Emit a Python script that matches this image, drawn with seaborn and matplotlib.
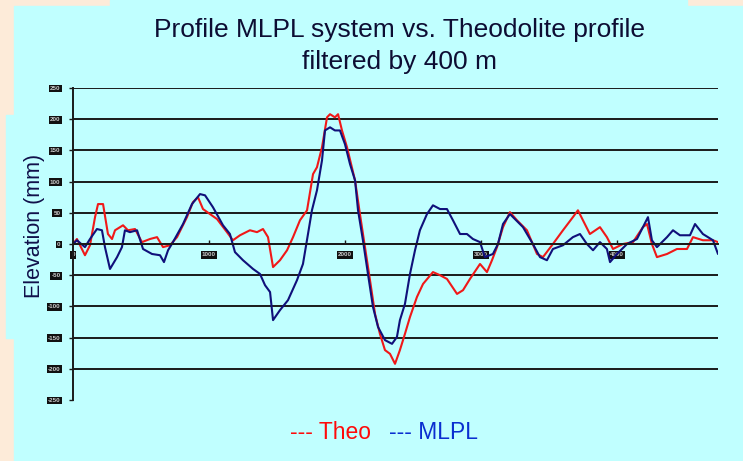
import numpy as np
import pandas as pd
import seaborn as sns
import matplotlib.pyplot as plt
from matplotlib.patches import Rectangle

# distance along the profile (m) and elevation (mm)
theo_x = [0, 29, 88, 125, 162, 184, 221, 257, 287, 309, 368, 404, 456, 507, 566, 618,
          662, 713, 765, 838, 882, 919, 956, 1007, 1059, 1132, 1176, 1228, 1301, 1353,
          1397, 1434, 1471, 1522, 1574, 1618, 1669, 1721, 1765, 1794, 1831, 1868, 1890,
          1926, 1949, 1978, 2015, 2074, 2110, 2147, 2184, 2221, 2257, 2294, 2331, 2368,
          2404, 2441, 2478, 2529, 2574, 2647, 2699, 2750, 2824, 2868, 2919, 2993, 3044,
          3081, 3118, 3162, 3213, 3265, 3338, 3412, 3456, 3529, 3603, 3676, 3713, 3750,
          3801, 3875, 3926, 3971, 4044, 4118, 4191, 4221, 4257, 4294, 4368, 4441, 4515,
          4559, 4632, 4706, 4743]
theo_y = [0, 8, -18, -2, 43, 64, 64, 16, 8, 22, 30, 22, 24, 3, 8, 11,
          -5, -2, 11, 43, 67, 75, 56, 48, 40, 19, 6, 14, 22, 19,
          24, 11, -37, -26, -10, 11, 38, 54, 112, 123, 155, 203, 208,
          203, 208, 182, 155, 102, 48, -5, -58, -112, -144, -170, -176, -192,
          -170, -144, -117, -85, -64, -45, -50, -56, -80, -74, -56, -32, -45,
          -26, -5, 27, 51, 38, 22, -16, -21, 0, 22, 43, 54, 38,
          16, 27, 11, -8, 0, 3, 27, 32, 0, -21, -16, -8, -8,
          11, 6, 6, 3]

mlpl_x = [0, 29, 88, 125, 176, 213, 235, 272, 324, 360, 382, 419, 471, 515, 581, 640,
          669, 699, 735, 809, 875, 934, 971, 1029, 1103, 1154, 1191, 1250, 1324, 1375,
          1412, 1449, 1471, 1522, 1581, 1647, 1691, 1728, 1757, 1794, 1831, 1853, 1890,
          1926, 1963, 2000, 2037, 2074, 2096, 2132, 2169, 2206, 2243, 2294, 2346, 2382,
          2404, 2441, 2478, 2515, 2551, 2603, 2647, 2699, 2750, 2794, 2846, 2897, 2941,
          2993, 3029, 3088, 3125, 3162, 3213, 3309, 3382, 3434, 3485, 3529, 3603, 3676,
          3728, 3779, 3824, 3875, 3926, 3949, 4000, 4074, 4147, 4191, 4228, 4257, 4294,
          4368, 4412, 4463, 4537, 4574, 4632, 4706, 4743]
mlpl_y = [0, 6, -5, 8, 24, 22, -5, -40, -21, -5, 22, 19, 22, -8, -16, -18,
          -29, -10, 3, 32, 64, 80, 78, 59, 30, 16, -13, -26, -40, -48,
          -66, -77, -122, -106, -90, -58, -32, 16, 54, 86, 134, 182, 187,
          182, 182, 160, 128, 102, 54, 6, -48, -101, -133, -154, -160, -149,
          -122, -96, -48, -10, 22, 48, 62, 56, 56, 38, 16, 16, 8,
          3, -21, -16, 0, 32, 48, 27, 0, -21, -26, -8, -2, 11,
          16, 0, -10, 3, -8, -29, -16, 0, 8, 27, 43, 6, -5,
          11, 22, 14, 14, 32, 16, 6, -16]

y_ticks = [-250, -200, -150, -100, -50, 0, 50, 100, 150, 200, 250]
x_ticks = [0, 1000, 2000, 3000, 4000]

beige = "#fdebd9"
cyan = "#c0ffff"
theo_col = "#f01818"
mlpl_col = "#10107a"

sns.set_theme(style="white")
plt.rcParams["font.family"] = ["Liberation Sans", "DejaVu Sans"]

fig = plt.figure(figsize=(7.43, 4.61), dpi=100, facecolor=beige)
# cyan panel, title box and y-label box
fig.add_artist(Rectangle((14 / 743, 0), 1, 455 / 461, transform=fig.transFigure,
                         color=cyan, zorder=-10))
fig.add_artist(Rectangle((110 / 743, 0.9), 577 / 743, 0.1, transform=fig.transFigure,
                         color=cyan, zorder=-10))
fig.add_artist(Rectangle((6 / 743, 123 / 461), 49 / 743, 223 / 461,
                         transform=fig.transFigure, color=cyan, zorder=-10))

ax = fig.add_axes([73 / 743, 61 / 461, 645 / 743, 312 / 461])
ax.set_facecolor("none")

theo = pd.DataFrame({"x": theo_x, "y": theo_y})
mlpl = pd.DataFrame({"x": mlpl_x, "y": mlpl_y})
sns.lineplot(data=theo, x="x", y="y", color=theo_col, lw=1.5, sort=False, ax=ax)
sns.lineplot(data=mlpl, x="x", y="y", color=mlpl_col, lw=1.5, sort=False, ax=ax)

ax.set_xlim(0, 4743)
ax.set_ylim(-250, 250)
for v in y_ticks[1:]:
    ax.axhline(v, color="#1a1a1a", lw=1.4, zorder=0)

for s in ["top", "right"]:
    ax.spines[s].set_visible(False)
ax.spines["left"].set_color("#1a1a1a")
ax.spines["left"].set_linewidth(1.4)
ax.spines["bottom"].set_position(("data", 0))
ax.spines["bottom"].set_color("#1a1a1a")
ax.spines["bottom"].set_linewidth(1.4)

ax.set_yticks(y_ticks, labels=[str(v) for v in y_ticks])
ax.set_xticks(x_ticks, labels=[str(v) for v in x_ticks])
ax.tick_params(axis="y", left=True, length=3, width=1, color="#1a1a1a",
               labelsize=4.5, labelcolor="#cccccc", pad=6)
ax.tick_params(axis="x", bottom=True, direction="in", length=3, width=1,
               color="#1a1a1a", labelsize=4.5, labelcolor="#cccccc", pad=6)
for lab in ax.get_yticklabels() + ax.get_xticklabels():
    lab.set_bbox(dict(facecolor="#111111", edgecolor="none", pad=1))
    lab.set_fontweight("bold")

ax.set_xlabel("")
ax.set_ylabel("Elevation (mm)", fontsize=15.5, color="#10104a")
ax.yaxis.set_label_coords(-28 / 645, 174 / 312)

fig.text(400 / 743, 1 - 46 / 461,
         "Profile MLPL system vs. Theodolite profile\nfiltered by 400 m",
         ha="center", va="center", fontsize=19, color="#0d0d33", linespacing=1.4)
fig.text(290 / 743, 1 - 432 / 461, "--- Theo", color="#ff0a0a", fontsize=16.5, va="center")
fig.text(389 / 743, 1 - 432 / 461, "--- MLPL", color="#0a2ed0", fontsize=16.5, va="center")

plt.savefig("out.png", dpi=100, facecolor=beige)
